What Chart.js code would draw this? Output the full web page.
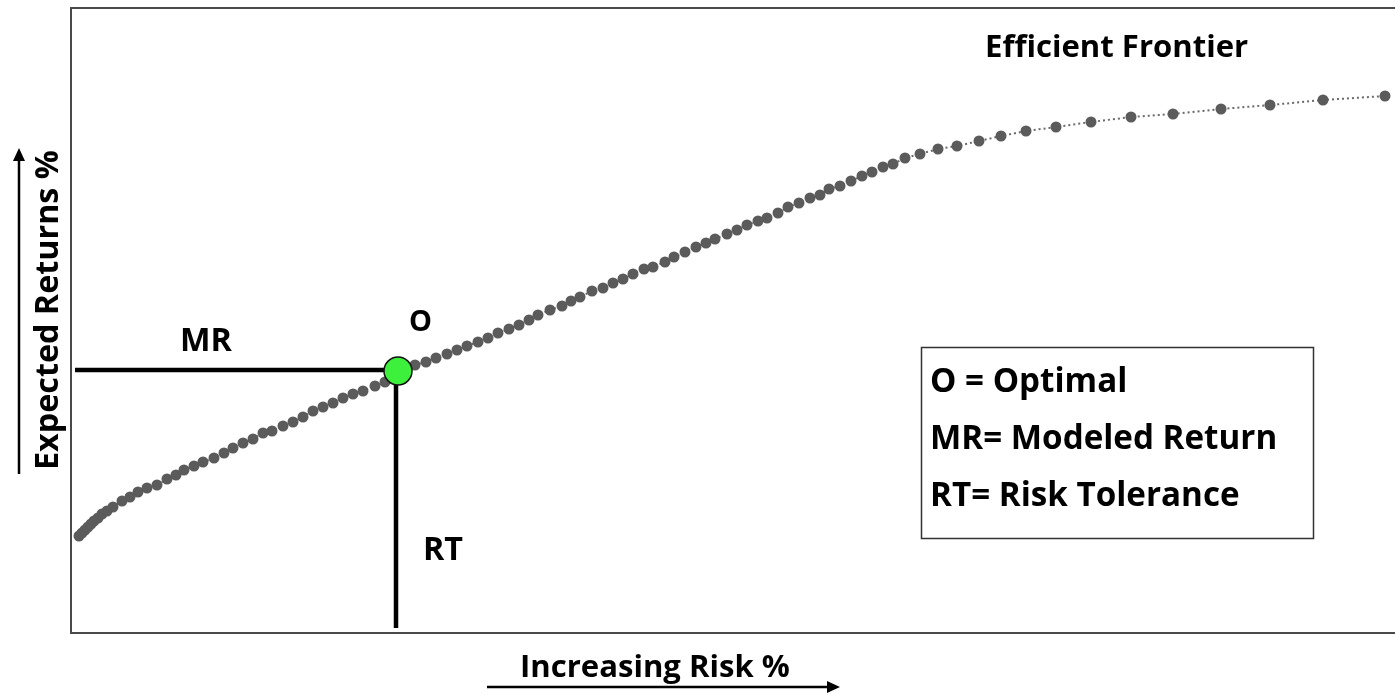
<!DOCTYPE html>
<html>
<head>
<meta charset="utf-8">
<script src="https://cdn.jsdelivr.net/npm/chart.js@4.4.1/dist/chart.umd.min.js"></script>
<style>
  html, body { margin: 0; padding: 0; background: #fff; }
  #wrap { width: 1395px; height: 695px; position: relative; }
</style>
</head>
<body>
<div id="wrap"><canvas id="chart"></canvas></div>
<script>
// frontier points (risk, return), plot units
const risk = [8, 11, 14, 17, 20, 23, 27, 31, 36, 42, 51, 59, 67, 76, 86, 96, 105, 113, 123,
  132, 143, 153, 162, 172, 182, 192, 201, 212, 222, 232, 242, 252, 262, 272, 282, 292, 304,
  314, 324, 334, 344, 355, 365, 376, 386, 396, 407, 417, 427, 438, 448, 458, 467, 479, 491,
  500, 509, 521, 532, 542, 552, 562, 573, 582, 594, 603, 614, 625, 635, 644, 656, 666, 676,
  687, 696, 707, 717, 728, 739, 749, 758, 769, 780, 791, 801, 812, 822, 834, 849, 867, 886,
  908, 930, 955, 985, 1020, 1060, 1102, 1150, 1199, 1252, 1314];
const ret = [97, 100, 103, 106, 109, 112, 115, 119, 122, 126, 132, 136, 141, 145, 148, 154,
  158, 163, 167, 171, 175, 180, 185, 190, 194, 200, 202, 207, 211, 216, 222, 226, 230, 235,
  239, 242, 247, 251, 257, 262, 268, 271, 275, 279, 283, 287, 291, 295, 300, 304, 308, 313,
  318, 323, 327, 332, 336, 342, 345, 350, 354, 359, 364, 366, 371, 376, 381, 386, 390, 394,
  399, 403, 408, 412, 415, 420, 426, 430, 435, 438, 444, 447, 452, 457, 461, 466, 469, 475,
  479, 484, 487, 492, 497, 502, 506, 511, 516, 519, 524, 528, 533, 537];

// optimal point and the MR / RT guide lines
const optimal = { x: 327, y: 262 };
const mrLine = [{ x: 4, y: 263 }, { x: 327, y: 263 }];
const rtLine = [{ x: 325, y: 262 }, { x: 325, y: 5 }];

const labels = {
  title: 'Efficient Frontier',
  xTitle: 'Increasing Risk %',
  yTitle: 'Expected Returns %',
  o: 'O', mr: 'MR', rt: 'RT',
  legend: ['O = Optimal', 'MR= Modeled Return', 'RT= Risk Tolerance']
};

const frontier = risk.map((x, i) => ({ x: x, y: ret[i] }));

// set a bold font so the text is the given width
function fitFont(ctx, text, width) {
  ctx.font = 'bold 100px "Open Sans"';
  const w = ctx.measureText(text).width;
  const size = 100 * width / w;
  ctx.font = 'bold ' + size.toFixed(1) + 'px "Open Sans"';
}

function arrow(ctx, x1, y1, x2, y2) {
  const a = Math.atan2(y2 - y1, x2 - x1);
  ctx.beginPath();
  ctx.moveTo(x1, y1);
  ctx.lineTo(x2 - 8 * Math.cos(a), y2 - 8 * Math.sin(a));
  ctx.lineWidth = 2.5;
  ctx.strokeStyle = '#000';
  ctx.stroke();
  ctx.beginPath();
  ctx.moveTo(x2, y2);
  ctx.lineTo(x2 - 13 * Math.cos(a) + 6 * Math.sin(a), y2 - 13 * Math.sin(a) - 6 * Math.cos(a));
  ctx.lineTo(x2 - 13 * Math.cos(a) - 6 * Math.sin(a), y2 - 13 * Math.sin(a) + 6 * Math.cos(a));
  ctx.closePath();
  ctx.fillStyle = '#000';
  ctx.fill();
}

const decorations = {
  id: 'decorations',
  beforeDatasetsDraw(chart) {
    const { ctx, chartArea: a } = chart;
    ctx.save();
    ctx.strokeStyle = '#4a4a4a';
    ctx.lineWidth = 2;
    ctx.beginPath();
    ctx.moveTo(a.right + 2, a.top);
    ctx.lineTo(a.left, a.top);
    ctx.lineTo(a.left, a.bottom);
    ctx.lineTo(a.right + 2, a.bottom);
    ctx.stroke();
    ctx.restore();
  },
  afterDraw(chart) {
    const ctx = chart.ctx;
    ctx.save();
    ctx.fillStyle = '#000';
    ctx.textBaseline = 'alphabetic';
    ctx.textAlign = 'left';

    fitFont(ctx, labels.title, 263);
    ctx.fillText(labels.title, 985, 57);
    fitFont(ctx, labels.o, 23);
    ctx.fillText(labels.o, 409, 331);
    fitFont(ctx, labels.mr, 52);
    ctx.fillText(labels.mr, 180, 351);
    fitFont(ctx, labels.rt, 40);
    ctx.fillText(labels.rt, 423, 560);

    // legend box
    ctx.strokeStyle = '#333';
    ctx.lineWidth = 1.5;
    ctx.strokeRect(921.5, 347.5, 392, 191);
    fitFont(ctx, labels.legend[1], 347);
    ctx.fillText(labels.legend[0], 930, 392);
    ctx.fillText(labels.legend[1], 930, 449);
    ctx.fillText(labels.legend[2], 930, 506);

    // axis titles and arrows
    fitFont(ctx, labels.xTitle, 270);
    ctx.fillText(labels.xTitle, 520, 677);
    arrow(ctx, 487, 687, 840, 687);

    ctx.save();
    ctx.translate(58, 470);
    ctx.rotate(-Math.PI / 2);
    fitFont(ctx, labels.yTitle, 320);
    ctx.fillText(labels.yTitle, 0, 0);
    ctx.restore();
    arrow(ctx, 19, 474, 19, 148);
    ctx.restore();
  }
};

new Chart(document.getElementById('chart'), {
  type: 'scatter',
  data: {
    datasets: [
      {
        data: [optimal],
        pointRadius: 14,
        pointBackgroundColor: '#3cf03c',
        pointBorderColor: '#111',
        pointBorderWidth: 1.5,
        order: 0
      },
      {
        data: mrLine,
        showLine: true,
        borderColor: '#000',
        borderWidth: 4.5,
        pointRadius: 0,
        order: 1
      },
      {
        data: rtLine,
        showLine: true,
        borderColor: '#000',
        borderWidth: 4.5,
        pointRadius: 0,
        order: 1
      },
      {
        data: frontier,
        showLine: true,
        borderColor: '#6a6a6a',
        borderWidth: 2,
        borderDash: [2, 3],
        pointRadius: 5.5,
        pointBackgroundColor: '#5b5b5b',
        pointBorderWidth: 0,
        order: 2
      }
    ]
  },
  options: {
    responsive: true,
    maintainAspectRatio: false,
    animation: false,
    layout: { autoPadding: false, padding: { left: 71, top: 8, right: 0, bottom: 62 } },
    plugins: { legend: { display: false }, tooltip: { enabled: false } },
    scales: {
      x: { type: 'linear', min: 0, max: 1324, display: false },
      y: { type: 'linear', min: 0, max: 625, display: false }
    }
  },
  plugins: [decorations]
});
</script>
</body>
</html>
